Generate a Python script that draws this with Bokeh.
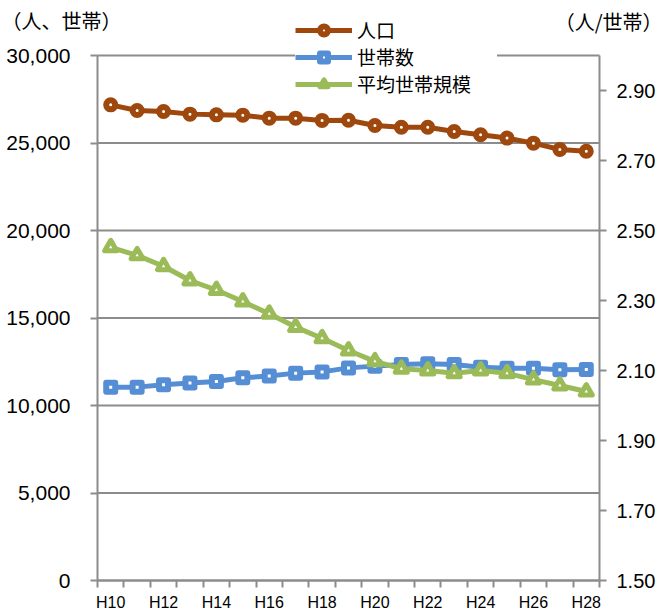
from bokeh.plotting import figure
from bokeh.models import (Range1d, LinearAxis, FixedTicker, NumeralTickFormatter,
                          Legend, LegendItem, Label)
from bokeh.embed import file_html
from bokeh.resources import INLINE

years = ["H10", "H11", "H12", "H13", "H14", "H15", "H16", "H17", "H18", "H19",
         "H20", "H21", "H22", "H23", "H24", "H25", "H26", "H27", "H28"]
population = [27180, 26860, 26800, 26650, 26610, 26590, 26420, 26420, 26290, 26300,
              26000, 25900, 25900, 25660, 25470, 25280, 24990, 24630, 24530]
households = [11050, 11050, 11180, 11280, 11370, 11580, 11680, 11850, 11920, 12150,
              12250, 12340, 12380, 12340, 12190, 12130, 12130, 12040, 12060]
avg_size = [2.452, 2.429, 2.398, 2.357, 2.330, 2.297, 2.262, 2.224, 2.192, 2.157,
            2.126, 2.105, 2.100, 2.092, 2.100, 2.092, 2.074, 2.057, 2.040]
left_ticks = [0, 5000, 10000, 15000, 20000, 25000, 30000]
right_ticks = [1.5, 1.7, 1.9, 2.1, 2.3, 2.5, 2.7, 2.9]
left_lim = (0, 30000)
right_lim = (1.5, 3.0)

BROWN = "#9E480E"
BLUE = "#558ED5"
GREEN = "#9BBB59"
GRAY = "#8C8C8C"
JP = "Noto Sans CJK JP"
NUM = "Liberation Sans"

# page geometry (pixels): plot area box inside a 662x615 canvas
W, H = 662, 615
PL, PR, PT, PB = 97, 599, 55, 580

xs = list(range(len(years)))
x_lo, x_hi = -0.5, len(years) - 0.5
xu = (PR - PL) / (x_hi - x_lo)
x_range = Range1d(x_lo - PL / xu, x_hi + (W - PR) / xu)
yu = (PB - PT) / (left_lim[1] - left_lim[0])
y_range = Range1d(left_lim[0] - (H - PB) / yu, left_lim[1] + PT / yu)
ru = (PB - PT) / (right_lim[1] - right_lim[0])
r_range = Range1d(right_lim[0] - (H - PB) / ru, right_lim[1] + PT / ru)

p = figure(width=W, height=H, output_backend="svg", toolbar_location=None,
           x_range=x_range, y_range=y_range, min_border=0,
           min_border_left=0, min_border_right=0, min_border_top=0, min_border_bottom=0)
p.outline_line_color = None
p.background_fill_color = "white"
p.border_fill_color = "white"
p.xgrid.grid_line_color = None
p.ygrid.grid_line_color = None
p.extra_y_ranges = {"size": r_range}

# horizontal gridlines within the plot area
p.segment(x0=[x_lo] * len(left_ticks), x1=[x_hi] * len(left_ticks),
          y0=left_ticks, y1=left_ticks, line_color=GRAY, line_width=2)

# x axis
xa = p.xaxis[0]
xa.fixed_location = left_lim[0]
xa.bounds = (x_lo, x_hi)
xa.ticker = FixedTicker(ticks=[i for i in xs if i % 2 == 0],
                        minor_ticks=[i - 0.5 for i in xs] + [x_hi])
xa.major_label_overrides = {i: years[i] for i in xs}
xa.major_tick_line_color = None
xa.minor_tick_line_color = GRAY
xa.minor_tick_line_width = 2
xa.minor_tick_in = 0
xa.minor_tick_out = 7
xa.axis_line_color = GRAY
xa.axis_line_width = 2
xa.major_label_standoff = 6
xa.major_label_text_font = NUM
xa.major_label_text_font_size = "16px"
xa.major_label_text_color = "black"

# left axis
ya = p.yaxis[0]
ya.fixed_location = x_lo
ya.bounds = left_lim
ya.ticker = FixedTicker(ticks=left_ticks)
ya.formatter = NumeralTickFormatter(format="0,0")
ya.minor_tick_line_color = None
ya.major_tick_line_color = GRAY
ya.major_tick_line_width = 2
ya.major_tick_in = 0
ya.major_tick_out = 7
ya.axis_line_color = GRAY
ya.axis_line_width = 2
ya.major_label_standoff = 20
ya.major_label_text_font = NUM
ya.major_label_text_font_size = "21px"
ya.major_label_text_color = "black"

ra = LinearAxis(y_range_name="size", ticker=FixedTicker(ticks=right_ticks),
                formatter=NumeralTickFormatter(format="0.00"),
                fixed_location=x_hi, bounds=right_lim)
ra.minor_tick_line_color = None
ra.major_tick_line_color = GRAY
ra.major_tick_line_width = 2
ra.major_tick_in = 0
ra.major_tick_out = 7
ra.axis_line_color = GRAY
ra.axis_line_width = 2
ra.major_label_standoff = 10
ra.major_label_text_font = NUM
ra.major_label_text_font_size = "20px"
ra.major_label_text_color = "black"
p.add_layout(ra, "right")

# series
l1 = p.line(xs, population, line_color=BROWN, line_width=5, line_join="round")
s1 = p.scatter(xs, population, marker="circle", size=9, line_width=6,
               line_color=BROWN, fill_color="white")
l2 = p.line(xs, households, line_color=BLUE, line_width=5, line_join="round")
s2 = p.scatter(xs, households, marker="square", size=9, line_width=6,
               line_color=BLUE, fill_color="white", line_join="round")
l3 = p.line(xs, avg_size, y_range_name="size", line_color=GREEN, line_width=5,
            line_join="round")
s3 = p.scatter(xs, avg_size, y_range_name="size", marker="triangle", size=12,
               line_width=5, line_color=GREEN, fill_color="white", line_join="round")

legend = Legend(items=[
    LegendItem(label="人口", renderers=[l1, s1]),
    LegendItem(label="世帯数", renderers=[l2, s2]),
    LegendItem(label="平均世帯規模", renderers=[l3, s3]),
], location=(295, H - 97))
legend.glyph_width = 57
legend.glyph_height = 20
legend.label_height = 20
legend.label_text_font = JP
legend.label_text_font_size = "19px"
legend.label_text_color = "black"
legend.label_standoff = 5
legend.label_width = 140
legend.spacing = 0
legend.padding = 18
legend.margin = 0
legend.border_line_color = None
legend.background_fill_color = "white"
legend.background_fill_alpha = 1.0
p.add_layout(legend, "center")

lab_l = Label(x=1, y=H - 20, x_units="screen", y_units="screen", text="（人、世帯）",
              text_font=JP, text_font_size="20px", text_color="black",
              text_baseline="middle")
lab_r = Label(x=W, y=H - 21, x_units="screen", y_units="screen", text="（人/世帯）",
              text_font=JP, text_font_size="20px", text_color="black",
              text_baseline="middle", text_align="right")
p.add_layout(lab_l)
p.add_layout(lab_r)

open("out.html", "w").write(file_html(p, INLINE))
